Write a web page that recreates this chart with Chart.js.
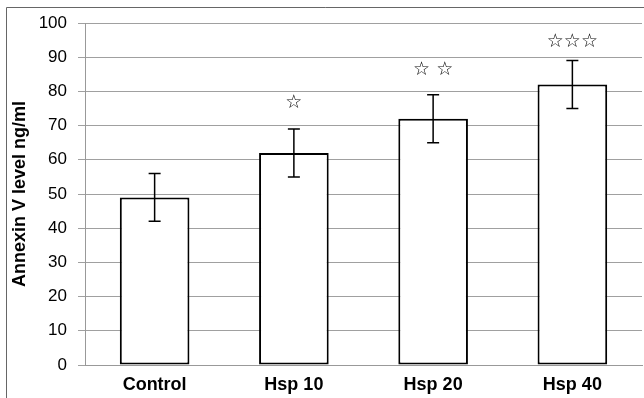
<!DOCTYPE html>
<html>
<head>
<meta charset="utf-8">
<script src="https://cdn.jsdelivr.net/npm/chart.js@4"></script>
<style>
  html, body { margin: 0; padding: 0; background: #fff; }
  #wrap { width: 644px; height: 398px; position: relative; }
</style>
</head>
<body>
<div id="wrap"><canvas id="annexinChart" width="644" height="398"></canvas></div>
<script>
// values
const groups = ['Control', 'Hsp 10', 'Hsp 20', 'Hsp 40']
const annexinLevel = [49, 62, 72, 82]
const errLow = [42, 55, 65, 75]
const errHigh = [56, 69, 79, 89]
const stars = ['', '\u2606', '\u2606 \u2606', '\u2606\u2606\u2606']
const starLevel = [null, 76.6, 86.3, 94.4]

// frame lines round the picture
const framePlugin = {
    id: 'frame',
    beforeDraw(chart) {
        const ctx = chart.ctx
        ctx.save()
        ctx.lineWidth = 1
        ctx.strokeStyle = '#666'
        ctx.beginPath()
        ctx.moveTo(6.5, 398)
        ctx.lineTo(6.5, 7.5)
        ctx.lineTo(644, 7.5)
        ctx.stroke()
        ctx.restore()
    }
}

// error bars and significance stars
const errorBarPlugin = {
    id: 'errorBars',
    afterDatasetsDraw(chart) {
        const ctx = chart.ctx
        const x = chart.scales.x
        const y = chart.scales.y
        ctx.save()
        ctx.strokeStyle = '#000'
        ctx.lineWidth = 1.5
        groups.forEach((g, i) => {
            const cx = x.getPixelForValue(i)
            const top = y.getPixelForValue(errHigh[i])
            const bot = y.getPixelForValue(errLow[i])
            ctx.beginPath()
            ctx.moveTo(cx, top)
            ctx.lineTo(cx, bot)
            ctx.moveTo(cx - 6, top)
            ctx.lineTo(cx + 6, top)
            ctx.moveTo(cx - 6, bot)
            ctx.lineTo(cx + 6, bot)
            ctx.stroke()

            if (stars[i]) {
                ctx.fillStyle = '#000'
                ctx.font = '19px "DejaVu Sans"'
                ctx.textAlign = 'center'
                ctx.textBaseline = 'middle'
                ctx.fillText(stars[i], cx, y.getPixelForValue(starLevel[i]))
            }
        })
        ctx.restore()
    }
}

new Chart(document.getElementById('annexinChart'), {
    type: 'bar',
    data: {
        labels: groups,
        datasets: [{
            data: annexinLevel,
            backgroundColor: '#fff',
            borderColor: '#000',
            borderWidth: 2,
            borderSkipped: false,
            barPercentage: 0.5,
            categoryPercentage: 1
        }]
    },
    options: {
        responsive: false,
        animation: false,
        layout: {
            padding: { left: 9, right: 2, top: 23, bottom: 0 }
        },
        plugins: {
            legend: { display: false },
            tooltip: { enabled: false }
        },
        scales: {
            x: {
                grid: { display: false },
                border: { color: '#999', width: 1 },
                ticks: {
                    color: '#000',
                    padding: 1,
                    font: { family: '"Liberation Sans"', size: 18, weight: 'bold' }
                },
                afterFit: (scale) => { scale.height = 33 }
            },
            y: {
                min: 0,
                max: 100,
                ticks: {
                    stepSize: 10,
                    color: '#000',
                    padding: 11,
                    font: { family: '"Liberation Sans"', size: 17 }
                },
                grid: { color: '#a0a0a0', lineWidth: 1, tickLength: 7 },
                border: { color: '#999', width: 1 },
                title: {
                    display: true,
                    text: 'Annexin V level ng/ml',
                    color: '#000',
                    padding: 0,
                    font: { family: '"Liberation Sans"', size: 18, weight: 'bold' }
                },
                afterFit: (scale) => { scale.width = 76 }
            }
        }
    },
    plugins: [framePlugin, errorBarPlugin]
})
</script>
</body>
</html>
